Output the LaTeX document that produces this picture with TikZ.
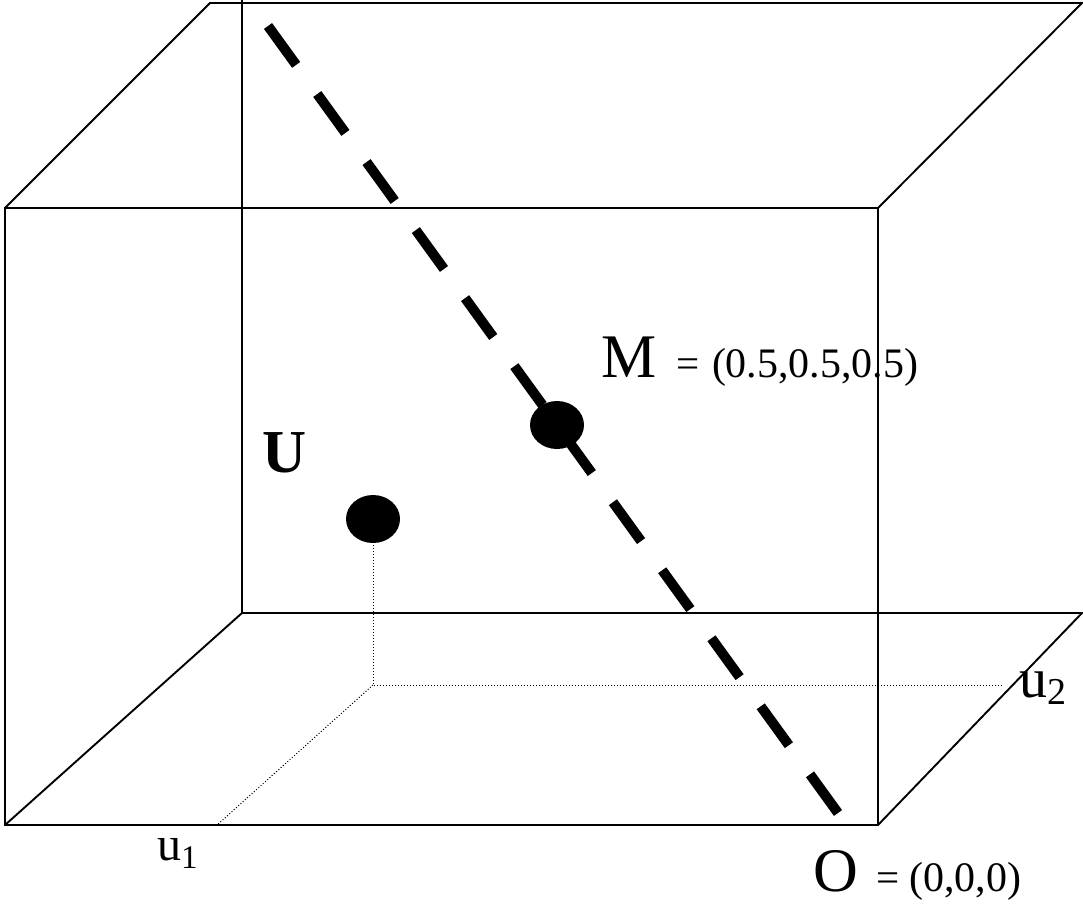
\documentclass[tikz,border=0pt]{standalone}
\usepackage{fontspec}
\setmainfont{Liberation Serif}
\begin{document}
\begin{tikzpicture}[x=1pt,y=-1pt,
  edge/.style={line width=1.9pt},
  dots/.style={line width=1pt,dash pattern=on 1pt off 2pt},
  diag/.style={line width=10pt,dash pattern=on 48pt off 36pt},
  lbl/.style={anchor=base west,inner sep=0pt,outer sep=0pt},
  pt/.style={fill=black}]
\useasboundingbox (0,0) rectangle (1083,903);
% cube corners
\coordinate (ftl) at (5,208);
\coordinate (ftr) at (878,208);
\coordinate (fbl) at (5,825);
\coordinate (fbr) at (878,825);
\coordinate (ttl) at (210,3);
\coordinate (ttr) at (1082,3);
\coordinate (vtop) at (242,0);
\coordinate (bbl) at (242,613);
\coordinate (bbr) at (1082,613);
% U projections
\coordinate (uc) at (373,519);
\coordinate (ub) at (373,545);
\coordinate (uf) at (373,685);
\coordinate (u2e) at (1003,685);
\coordinate (u1e) at (217,825);
% diagonal
\coordinate (ds) at (268,26);
\coordinate (de) at (838,813);
\coordinate (mc) at (557,425);
% edges
\draw[edge] (ftl) rectangle (fbr);
\draw[edge] (ftl) -- (ttl) -- (ttr) -- (ftr);
\draw[edge] (vtop) -- (bbl);
\draw[edge] (fbl) -- (bbl) -- (bbr) -- (fbr);
% dotted
\draw[dots] (ub) -- (uf) -- (u2e);
\draw[dots] (uf) -- (u1e);
% dashed diagonal
\draw[diag] (ds) -- (de);
% points
\fill[pt] (uc) ellipse [x radius=27, y radius=24];
\fill[pt] (mc) ellipse [x radius=27, y radius=24];
% labels
\node[lbl] (mlab) at (601,377) {\fontsize{62}{62}\selectfont M};
\node[lbl] (meq) at (676,377) {\fontsize{41}{41}\selectfont =};
\node[lbl] (mval) at (712,377) {\fontsize{42}{42}\selectfont (0.5,0.5,0.5)};
\node[lbl] (ulab) at (262,472) {\fontsize{61}{61}\selectfont\bfseries U};
\node[lbl,text depth=0pt] (olab) at (813,891) {\fontsize{62}{62}\selectfont O};
\node[lbl] (oeq) at (876,891) {\fontsize{41}{41}\selectfont =};
\node[lbl] (oval) at (909,891) {\fontsize{42}{42}\selectfont (0,0,0)};
\node[lbl] (u1lab) at (157,860) {\fontsize{48}{48}\selectfont u\raisebox{-8pt}{\fontsize{33}{33}\selectfont 1}};
\node[lbl] (u2lab) at (1019,697) {\fontsize{56}{56}\selectfont u\raisebox{-7pt}{\fontsize{38}{38}\selectfont 2}};
\end{tikzpicture}
\end{document}
